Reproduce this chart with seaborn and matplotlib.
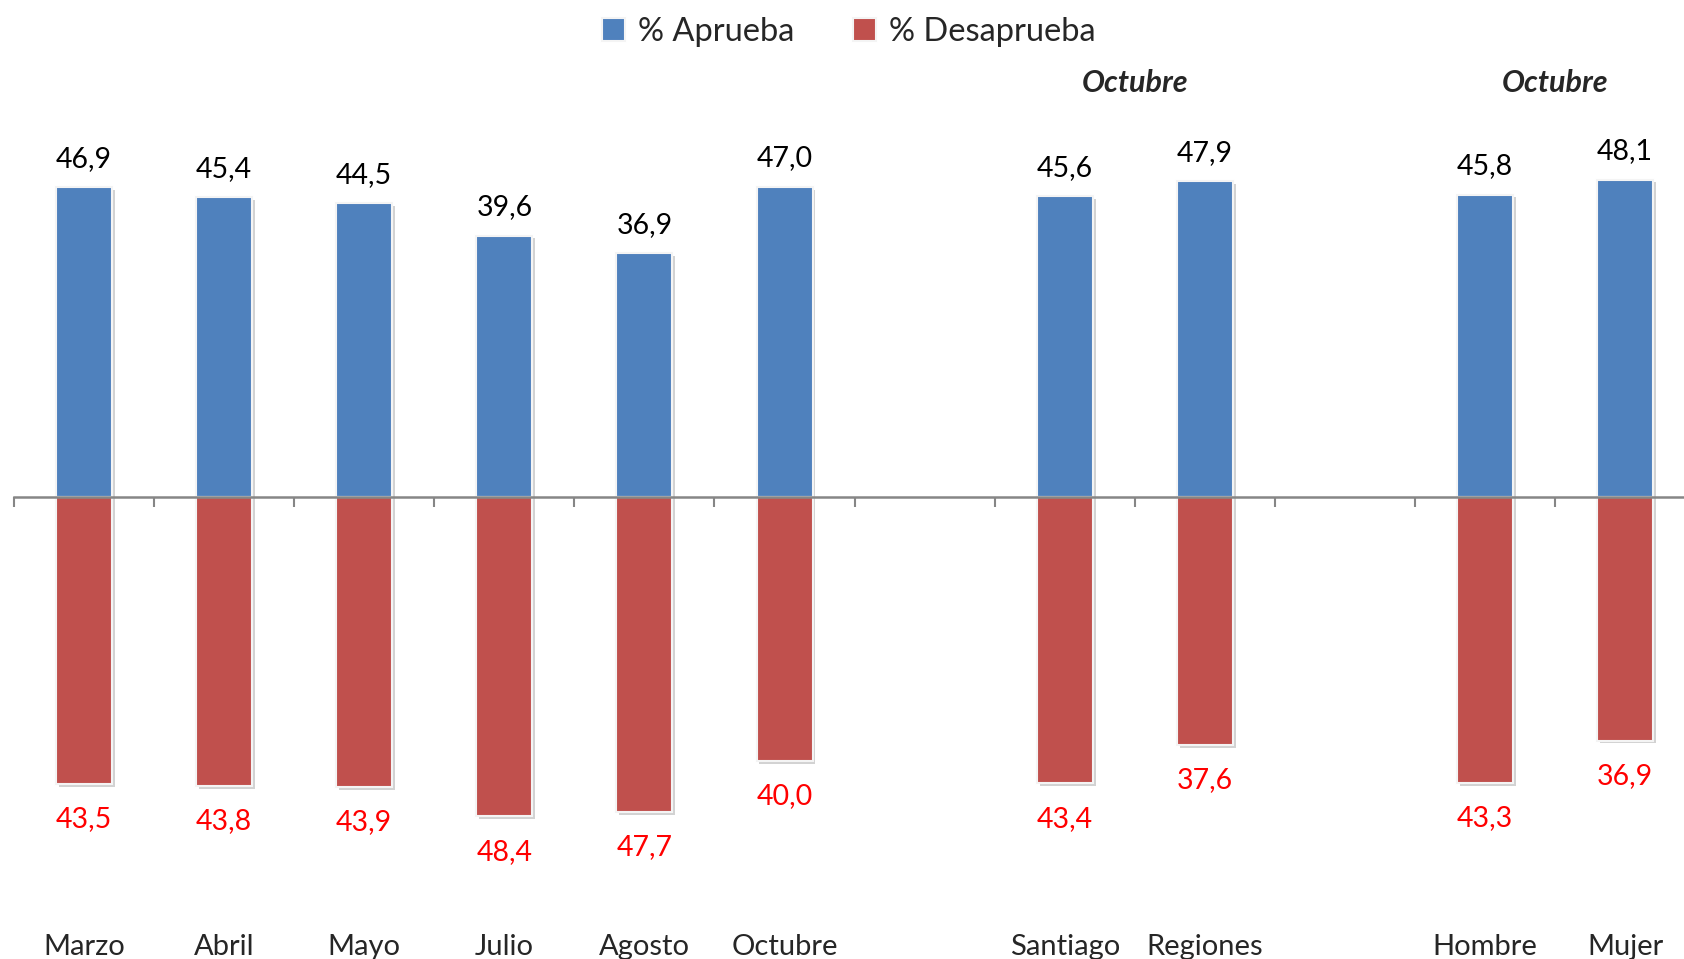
import numpy as np
import pandas as pd
import seaborn as sns
import matplotlib.pyplot as plt
import matplotlib.patheffects as pe
from matplotlib.transforms import blended_transform_factory

# Data
categorias = ["Marzo", "Abril", "Mayo", "Julio", "Agosto", "Octubre", "",
              "Santiago", "Regiones", " ", "Hombre", "Mujer"]
aprueba = [46.9, 45.4, 44.5, 39.6, 36.9, 47.0, np.nan, 45.6, 47.9, np.nan, 45.8, 48.1]
desaprueba = [43.5, 43.8, 43.9, 48.4, 47.7, 40.0, np.nan, 43.4, 37.6, np.nan, 43.3, 36.9]
series = ["% Aprueba", "% Desaprueba"]
colores = ["#4F81BD", "#C0504D"]

df = pd.concat([
    pd.DataFrame({"categoria": categorias, "valor": aprueba, "serie": series[0]}),
    pd.DataFrame({"categoria": categorias, "valor": [-v for v in desaprueba], "serie": series[1]}),
]).dropna()

sns.set_theme(style="white")
plt.rcParams["font.family"] = ["Lato", "DejaVu Sans"]

W, H = 1684, 959
fig = plt.figure(figsize=(W / 100, H / 100), dpi=100)
slot = 140.1
ax = fig.add_axes([14 / W, 0, 12 * slot / W, 1])

sns.barplot(
    data=df, x="categoria", y="valor", hue="serie",
    order=categorias, hue_order=series, palette=colores, saturation=1,
    dodge=False, width=0.4, errorbar=None,
    edgecolor="#f4f4f4", linewidth=1.5, ax=ax,
)

for bar in ax.patches:
    bar.set_path_effects([
        pe.SimplePatchShadow(offset=(2, -2), shadow_rgbFace="#808080", alpha=0.35),
        pe.Normal(),
    ])

fmt = lambda v: f"{abs(v):.1f}".replace(".", ",")
ax.bar_label(ax.containers[0], fmt=fmt, padding=11, fontsize=20.5, color="black")
ax.bar_label(ax.containers[1], fmt=fmt, padding=16, fontsize=20.5, color="#FF0000")

# scale: 6.6 px per unit, zero line at y=497 px
px = 6.6
ax.set_ylim(-(H - 497) / px, 497 / px)
ax.set_xlim(-0.5, 11.5)

for s in ["top", "left", "right"]:
    ax.spines[s].set_visible(False)
ax.spines["bottom"].set_position(("data", 0))
ax.spines["bottom"].set_color("#868686")
ax.spines["bottom"].set_linewidth(1.8)
ax.set_xticks(np.arange(-0.5, 12, 1))
ax.set_xticklabels([])
ax.set_yticks([])
ax.tick_params(axis="x", direction="out", length=7, width=1.5, color="#868686", bottom=True)
ax.set_xlabel("")
ax.set_ylabel("")

trans = blended_transform_factory(ax.transData, ax.transAxes)
for i, c in enumerate(categorias):
    if c.strip():
        ax.text(i, 4 / H, c, transform=trans, ha="center", va="baseline", fontsize=21)

for xpos in [7.5, 10.5]:
    ax.text(xpos, 1 - 83 / H, "Octubre", transform=trans, ha="center", va="center",
            fontsize=22, fontweight="bold", fontstyle="italic")

sns.move_legend(
    ax, "upper center", bbox_to_anchor=(0.504, 1.013), bbox_transform=fig.transFigure,
    ncol=2, frameon=False, title=None, fontsize=23.5,
    handlelength=0.7, handleheight=0.7, handletextpad=0.4, columnspacing=1.8,
)

fig.savefig("out.png", dpi=100)
